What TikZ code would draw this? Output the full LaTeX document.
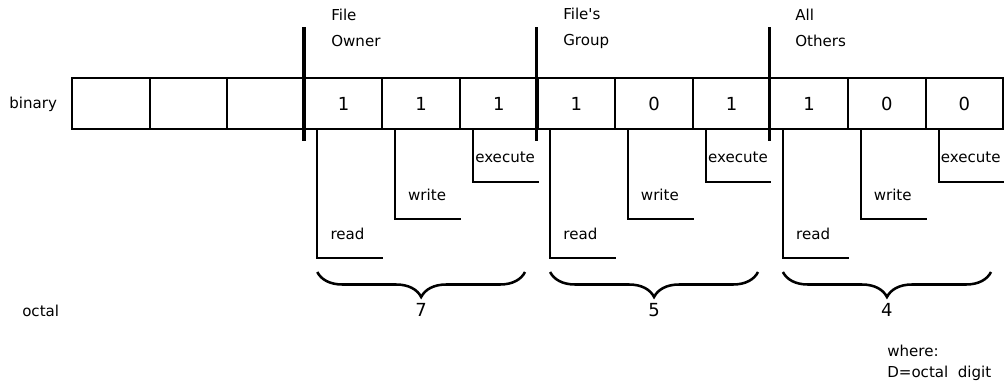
\documentclass[tikz,border=0pt]{standalone}
\usepackage{fontspec}
\setmainfont{DejaVu Sans}
\usetikzlibrary{calc,decorations.pathreplacing}
\begin{document}
\begin{tikzpicture}[x=0.75pt,y=-0.75pt,
  every node/.style={font=\fontsize{11.3}{13}\selectfont, inner sep=0pt},
  cell/.style={draw, line width=1.5pt, minimum width=77.6*0.75pt, minimum height=51*0.75pt, font=\fontsize{13.5}{15}\selectfont},
  digit/.style={font=\fontsize{13.5}{15}\selectfont},
  divider/.style={line width=2.6pt},
  lead/.style={line width=1.5pt},
  grpbrace/.style={line width=1.9pt, decorate, decoration={brace, mirror, amplitude=18.75pt, aspect=0.5}},
  tag/.style={anchor=west},
  stack/.style={anchor=west, align=left, font=\fontsize{11.3}{19.5}\selectfont}]
\useasboundingbox (0,0) rectangle (1006,386);

% the twelve bit cells
\foreach \i/\v in {1/{},2/{},3/{},4/1,5/1,6/1,7/1,8/0,9/1,10/1,11/0,12/0}
  \node[cell] (c\i) at ({72+77.6*(\i-0.5)},103.5) {\v};

\node[tag] (bin) at (9,104) {binary};
\node[tag] (oct) at (22,311) {octal};

% group boundaries
\foreach \k in {4,7,10} {
  \coordinate (t\k) at (c\k.west |- 0,27);
  \coordinate (b\k) at (c\k.west |- 0,141);
  \draw[divider] (t\k) -- (b\k);
}

\node[stack] (own) at (331,28) {File\\Owner};
\node[stack] (grp) at (563,28) {File\textquotesingle s\\Group};
\node[stack] (oth) at (795,28) {All\\Others};

% read / write / execute leads for each group
\foreach \k/\d/\e in {4/7/525, 7/5/758, 10/4/991} {
  \pgfmathtruncatemacro{\w}{\k+1}
  \pgfmathtruncatemacro{\x}{\k+2}
  % read
  \coordinate (rs\k) at ($(c\k.south west)+(13.5,0)$);
  \coordinate (re\k) at (c\k.east |- 0,258);
  \draw[lead] (rs\k) |- (re\k);
  \node[tag] (rt\k) at ($(rs\k |- 0,234)+(13,0)$) {read};
  % write
  \coordinate (ws\k) at ($(c\w.south west)+(13.5,0)$);
  \coordinate (we\k) at (c\w.east |- 0,219);
  \draw[lead] (ws\k) |- (we\k);
  \node[tag] (wt\k) at ($(ws\k |- 0,195)+(13,0)$) {write};
  % execute
  \coordinate (xs\k) at ($(c\x.south west)+(14,0)$);
  \coordinate (xe\k) at (c\x.east |- 0,182);
  \draw[lead] (xs\k) |- (xe\k);
  \node[tag] (xt\k) at ($(xs\k |- 0,157)+(2,0)$) {execute};
  % brace and octal digit
  \coordinate (ba\k) at (rs\k |- 0,272);
  \coordinate (bb\k) at (\e,272);
  \draw[grpbrace] (ba\k) -- (bb\k);
  \node[digit] (o\k) at ($(ba\k)!0.5!(bb\k)+(0,38)$) {\d};
}

\node[anchor=west, align=left, font=\fontsize{11.3}{15.75}\selectfont] (where) at (887,362.5) {where:\\D=octal\ \ digit};
\end{tikzpicture}
\end{document}
